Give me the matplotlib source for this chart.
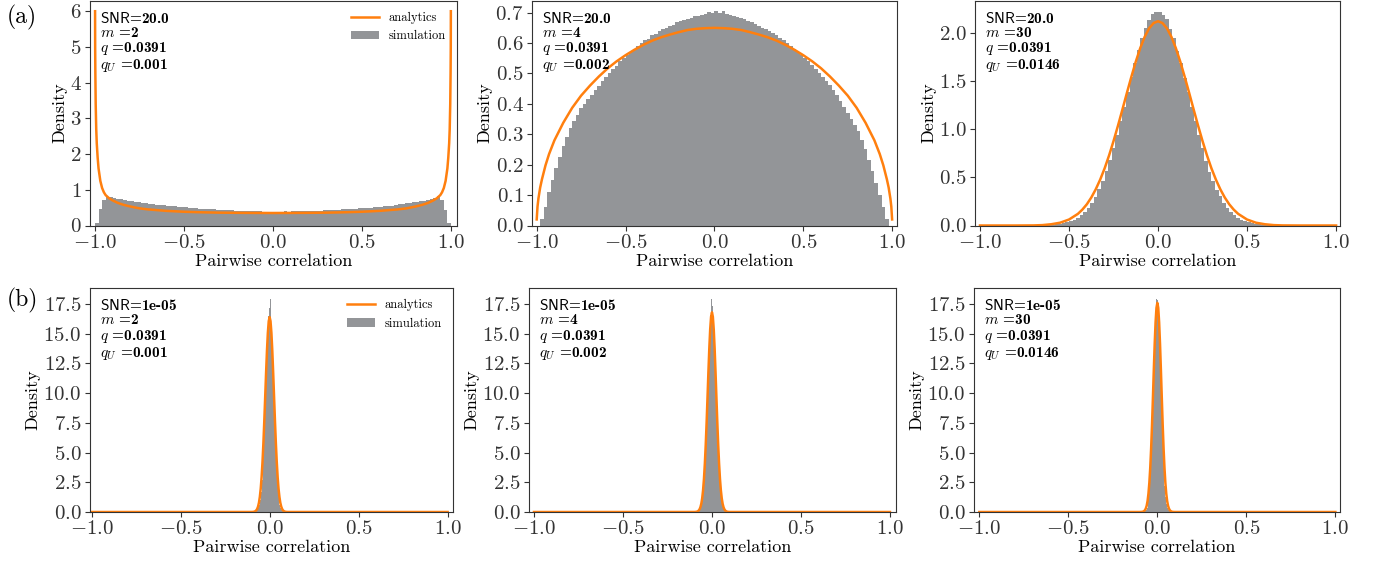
import numpy as np
import matplotlib
matplotlib.use("Agg")
import matplotlib.pyplot as plt
from matplotlib.lines import Line2D
from matplotlib.patches import Patch

plt.rcParams["font.family"] = "serif"
plt.rcParams["font.serif"] = ["cmr10"]
plt.rcParams["mathtext.fontset"] = "cm"
plt.rcParams["axes.formatter.use_mathtext"] = True

ORANGE = "#ff7f0e"
GREY = "#939598"

# ---------------- row (a): SNR = 20.0 ----------------
EDGES_A = np.linspace(-1.0, 1.0, 101)

HIST_A_M2 = [
    0.08, 0.47, 0.72, 0.81, 0.79, 0.77, 0.75, 0.73, 0.71, 0.69,
    0.675, 0.66, 0.645, 0.63, 0.62, 0.605, 0.595, 0.585, 0.575, 0.565,
    0.555, 0.545, 0.535, 0.525, 0.515, 0.505, 0.50, 0.49, 0.485, 0.475,
    0.47, 0.465, 0.455, 0.45, 0.445, 0.44, 0.435, 0.43, 0.425, 0.42,
    0.415, 0.41, 0.405, 0.40, 0.40, 0.395, 0.395, 0.39, 0.39, 0.39,
    0.39, 0.39, 0.39, 0.395, 0.39, 0.40, 0.40, 0.405, 0.405, 0.41,
    0.41, 0.415, 0.42, 0.42, 0.425, 0.43, 0.435, 0.44, 0.445, 0.45,
    0.455, 0.46, 0.465, 0.47, 0.48, 0.485, 0.49, 0.50, 0.51, 0.52,
    0.53, 0.54, 0.55, 0.56, 0.575, 0.59, 0.60, 0.62, 0.635, 0.65,
    0.665, 0.68, 0.70, 0.72, 0.75, 0.78, 0.82, 0.72, 0.44, 0.08,
]
HIST_A_M4 = [
    0.0, 0.02, 0.06, 0.11, 0.15, 0.19, 0.225, 0.26, 0.29, 0.32,
    0.345, 0.365, 0.385, 0.40, 0.415, 0.43, 0.445, 0.46, 0.475, 0.49,
    0.50, 0.515, 0.525, 0.54, 0.55, 0.56, 0.57, 0.58, 0.59, 0.60,
    0.61, 0.615, 0.625, 0.63, 0.64, 0.645, 0.65, 0.655, 0.66, 0.668,
    0.672, 0.676, 0.68, 0.684, 0.688, 0.69, 0.693, 0.696, 0.702, 0.70,
    0.705, 0.698, 0.704, 0.695, 0.692, 0.689, 0.686, 0.682, 0.678, 0.673,
    0.668, 0.662, 0.657, 0.651, 0.646, 0.64, 0.632, 0.625, 0.617, 0.61,
    0.60, 0.59, 0.58, 0.57, 0.56, 0.55, 0.54, 0.528, 0.515, 0.503,
    0.49, 0.476, 0.462, 0.447, 0.43, 0.41, 0.39, 0.37, 0.35, 0.33,
    0.31, 0.28, 0.25, 0.215, 0.18, 0.14, 0.10, 0.06, 0.02, 0.0,
]
HIST_A_M30 = [
    0, 0, 0, 0, 0, 0, 0, 0, 0, 0,
    0, 0, 0, 0, 0, 0, 0.001, 0.002, 0.003, 0.005,
    0.0076, 0.011, 0.016, 0.022, 0.032, 0.044, 0.060, 0.081, 0.108, 0.143,
    0.185, 0.238, 0.30, 0.375, 0.462, 0.562, 0.675, 0.80, 0.936, 1.08,
    1.232, 1.385, 1.538, 1.685, 1.82, 1.945, 2.05, 2.13, 2.19, 2.216,
    2.22, 2.18, 2.14, 2.04, 1.95, 1.81, 1.69, 1.53, 1.39, 1.23,
    1.08, 0.94, 0.80, 0.67, 0.56, 0.465, 0.372, 0.302, 0.235, 0.186,
    0.142, 0.109, 0.080, 0.061, 0.043, 0.032, 0.022, 0.016, 0.011, 0.0075,
    0.005, 0.003, 0.002, 0.001, 0, 0, 0, 0, 0, 0,
    0, 0, 0, 0, 0, 0, 0, 0, 0, 0,
]

CURVE_A_M2_X = [-0.9995, -0.999, -0.998, -0.996, -0.993, -0.99, -0.985, -0.98, -0.97, -0.96,
                -0.95, -0.94, -0.92, -0.90, -0.87, -0.84, -0.80, -0.75, -0.70, -0.60,
                -0.50, -0.40, -0.30, -0.20, -0.10, 0.0,
                0.10, 0.20, 0.30, 0.40, 0.50, 0.60, 0.70, 0.75, 0.80, 0.84,
                0.87, 0.90, 0.92, 0.94, 0.95, 0.96, 0.97, 0.98, 0.985, 0.99,
                0.993, 0.996, 0.998, 0.999, 0.9995]
CURVE_A_M2_Y = [6.0, 5.0, 4.3, 3.4, 2.7, 2.3, 1.9, 1.6, 1.25, 1.05,
                0.93, 0.85, 0.76, 0.70, 0.63, 0.58, 0.53, 0.48, 0.45, 0.41,
                0.385, 0.37, 0.36, 0.355, 0.352, 0.35,
                0.352, 0.355, 0.36, 0.37, 0.385, 0.41, 0.45, 0.48, 0.53, 0.58,
                0.63, 0.70, 0.76, 0.85, 0.93, 1.05, 1.25, 1.6, 1.9, 2.3,
                2.7, 3.4, 4.3, 5.0, 6.0]

CURVE_A_M4_X = [-0.9995, -0.995, -0.99, -0.98, -0.97, -0.95, -0.93, -0.90, -0.85, -0.80,
                -0.75, -0.70, -0.65, -0.60, -0.55, -0.50, -0.45, -0.40, -0.35, -0.30,
                -0.25, -0.20, -0.15, -0.10, -0.05, 0.0,
                0.05, 0.10, 0.15, 0.20, 0.25, 0.30, 0.35, 0.40, 0.45, 0.50,
                0.55, 0.60, 0.65, 0.70, 0.75, 0.80, 0.85, 0.90, 0.93, 0.95,
                0.97, 0.98, 0.99, 0.995, 0.9995]
CURVE_A_M4_Y = [0.02, 0.062, 0.088, 0.125, 0.152, 0.198, 0.235, 0.28, 0.338, 0.387,
                0.427, 0.46, 0.49, 0.517, 0.54, 0.56, 0.578, 0.594, 0.608, 0.619,
                0.628, 0.636, 0.643, 0.647, 0.649, 0.65,
                0.649, 0.647, 0.643, 0.636, 0.628, 0.619, 0.608, 0.594, 0.578, 0.56,
                0.54, 0.517, 0.49, 0.46, 0.427, 0.387, 0.338, 0.28, 0.235, 0.198,
                0.152, 0.125, 0.088, 0.062, 0.02]

CURVE_A_M30_X = [-1.0, -0.8, -0.7, -0.65, -0.6, -0.55, -0.5, -0.45, -0.425, -0.4,
                 -0.375, -0.35, -0.325, -0.3, -0.275, -0.25, -0.225, -0.2, -0.175, -0.15,
                 -0.125, -0.1, -0.075, -0.05, -0.025, 0.0,
                 0.025, 0.05, 0.075, 0.1, 0.125, 0.15, 0.175, 0.2, 0.225, 0.25,
                 0.275, 0.3, 0.325, 0.35, 0.375, 0.4, 0.425, 0.45, 0.5, 0.55,
                 0.6, 0.65, 0.7, 0.8, 1.0]
CURVE_A_M30_Y = [0.0, 0.0, 0.001, 0.004, 0.013, 0.029, 0.062, 0.121, 0.165, 0.220,
                 0.29, 0.375, 0.476, 0.593, 0.727, 0.876, 1.036, 1.204, 1.375, 1.542,
                 1.70, 1.841, 1.958, 2.046, 2.101, 2.12,
                 2.101, 2.046, 1.958, 1.841, 1.70, 1.542, 1.375, 1.204, 1.036, 0.876,
                 0.727, 0.593, 0.476, 0.375, 0.29, 0.220, 0.165, 0.121, 0.062, 0.029,
                 0.013, 0.004, 0.001, 0.0, 0.0]

# ---------------- row (b): SNR = 1e-05 ----------------
EDGES_B = np.linspace(-0.08, 0.08, 33)

HIST_B_M2 = [0.03, 0.08, 0.16, 0.31, 0.58, 1.02, 1.70, 2.71, 4.09, 5.88, 8.0, 10.4, 12.75, 14.9, 16.5, 17.2,
             17.95, 16.4, 14.8, 12.7, 10.4, 8.0, 5.9, 4.1, 2.7, 1.7, 1.0, 0.58, 0.31, 0.16, 0.08, 0.03]
HIST_B_M4 = [0.03, 0.07, 0.15, 0.30, 0.56, 1.0, 1.68, 2.70, 4.1, 5.9, 8.05, 10.5, 12.8, 15.0, 16.6, 17.9,
             17.3, 16.5, 14.9, 12.8, 10.4, 8.0, 5.85, 4.05, 2.68, 1.68, 1.0, 0.57, 0.30, 0.15, 0.07, 0.03]
HIST_B_M30 = [0.01, 0.03, 0.08, 0.18, 0.37, 0.72, 1.30, 2.20, 3.50, 5.25, 7.40, 9.85, 12.4, 14.8, 16.7, 17.95,
              17.8, 16.6, 14.7, 12.3, 9.8, 7.35, 5.2, 3.45, 2.18, 1.28, 0.71, 0.37, 0.18, 0.08, 0.03, 0.01]

CURVE_B_X = [-1.0, -0.1, -0.095, -0.09, -0.085, -0.08, -0.075, -0.07, -0.065, -0.06,
             -0.055, -0.05, -0.045, -0.04, -0.035, -0.03, -0.025, -0.02, -0.015, -0.01,
             -0.005, 0.0, 0.005, 0.01, 0.015, 0.02, 0.025, 0.03, 0.035, 0.04,
             0.045, 0.05, 0.055, 0.06, 0.065, 0.07, 0.075, 0.08, 0.085, 0.09,
             0.095, 0.1, 1.0]
CURVE_B_M2_Y = [0.0, 0.003, 0.008, 0.017, 0.036, 0.073, 0.14, 0.26, 0.46, 0.78,
                1.27, 1.97, 2.95, 4.23, 5.81, 7.65, 9.66, 11.69, 13.56, 15.07,
                16.06, 16.4, 16.06, 15.07, 13.56, 11.69, 9.66, 7.65, 5.81, 4.23,
                2.95, 1.97, 1.27, 0.78, 0.46, 0.26, 0.14, 0.073, 0.036, 0.017,
                0.008, 0.003, 0.0]
CURVE_B_M4_Y = [0.0, 0.003, 0.006, 0.013, 0.028, 0.058, 0.115, 0.22, 0.40, 0.69,
                1.15, 1.83, 2.79, 4.07, 5.67, 7.56, 9.65, 11.78, 13.76, 15.37,
                16.43, 16.8, 16.43, 15.37, 13.76, 11.78, 9.65, 7.56, 5.67, 4.07,
                2.79, 1.83, 1.15, 0.69, 0.40, 0.22, 0.115, 0.058, 0.028, 0.013,
                0.006, 0.003, 0.0]
CURVE_B_M30_Y = [0.0, 0.001, 0.003, 0.007, 0.016, 0.035, 0.074, 0.15, 0.29, 0.53,
                 0.93, 1.55, 2.46, 3.71, 5.34, 7.33, 9.58, 11.93, 14.14, 15.97,
                 17.18, 17.6, 17.18, 15.97, 14.14, 11.93, 9.58, 7.33, 5.34, 3.71,
                 2.46, 1.55, 0.93, 0.53, 0.29, 0.15, 0.074, 0.035, 0.016, 0.007,
                 0.003, 0.001, 0.0]

SNR_LABELS = ["20.0", "1e-05"]
M_VALUES = [2, 4, 30]
Q_VALUE = "0.0391"
QU_VALUES = ["0.001", "0.002", "0.0146"]

YTICKS = [
    [[0, 1, 2, 3, 4, 5, 6], [0.0, 0.1, 0.2, 0.3, 0.4, 0.5, 0.6, 0.7], [0.0, 0.5, 1.0, 1.5, 2.0]],
    [[0.0, 2.5, 5.0, 7.5, 10.0, 12.5, 15.0, 17.5]] * 3,
]

W, H = 1376, 567
# pixel boxes (x0, y0, x1, y1) of every panel, measured from the top-left corner
BOXES = [
    [(90, 0.5, 457, 225.5), (532, 0.5, 897, 225.5), (975, 0.5, 1340, 225.5)],
    [(90, 288, 453, 512), (529, 288, 896, 512), (974, 288, 1340, 512)],
]
XLIMS = [
    [(-1.028, 1.034), (-1.026, 1.027), (-1.028, 1.022)],
    [(-1.009, 1.030), (-1.028, 1.034), (-1.030, 1.026)],
]
YLIMS = [[(0, 6.3), (0, 0.74), (0, 2.335)], [(0, 18.85), (0, 18.85), (0, 18.85)]]

panels = [
    [(EDGES_A, HIST_A_M2, CURVE_A_M2_X, CURVE_A_M2_Y),
     (EDGES_A, HIST_A_M4, CURVE_A_M4_X, CURVE_A_M4_Y),
     (EDGES_A, HIST_A_M30, CURVE_A_M30_X, CURVE_A_M30_Y)],
    [(EDGES_B, HIST_B_M2, CURVE_B_X, CURVE_B_M2_Y),
     (EDGES_B, HIST_B_M4, CURVE_B_X, CURVE_B_M4_Y),
     (EDGES_B, HIST_B_M30, CURVE_B_X, CURVE_B_M30_Y)],
]

fig = plt.figure(figsize=(W / 100, H / 100), dpi=100)

for r in range(2):
    for c in range(3):
        x0, y0, x1, y1 = BOXES[r][c]
        ax = fig.add_axes([x0 / W, 1 - y1 / H, (x1 - x0) / W, (y1 - y0) / H])
        edges, hist, cx, cy = panels[r][c]
        edges = np.asarray(edges)
        ax.bar(edges[:-1], hist, width=np.diff(edges), align="edge",
               color=GREY, linewidth=0, zorder=1)
        ax.plot(cx, cy, color=ORANGE, lw=1.8, zorder=2)
        ax.set_xlim(*XLIMS[r][c])
        ax.set_ylim(*YLIMS[r][c])
        ax.set_xticks([-1.0, -0.5, 0.0, 0.5, 1.0])
        ax.set_yticks(YTICKS[r][c])
        ax.tick_params(labelsize=15, colors="#333333", pad=2.5)
        for sp in ax.spines.values():
            sp.set_color("#333333")
        ax.set_xlabel("Pairwise correlation", fontsize=13, labelpad=1)
        ax.set_ylabel("Density", fontsize=13, labelpad=2)

        info = (r"$\mathsf{SNR}$=" + SNR_LABELS[r] + "\n"
                + r"$m$ =" + str(M_VALUES[c]) + "\n"
                + r"$q$ =" + Q_VALUE + "\n"
                + r"$q_U$ =" + QU_VALUES[c])
        ax.text(0.028, 0.955, info, transform=ax.transAxes, ha="left", va="top",
                fontsize=11, family="cmb10", linespacing=1.02)

        if c == 0:
            handles = [Line2D([], [], color=ORANGE, lw=1.8), Patch(facecolor=GREY)]
            ax.legend(handles, ["analytics", "simulation"], loc="upper right",
                      frameon=False, fontsize=9, handlelength=2.2)

fig.text(22 / W, 1 - 17 / H, "(a)", fontsize=17, ha="center", va="center")
fig.text(22 / W, 1 - 300 / H, "(b)", fontsize=17, ha="center", va="center")

fig.savefig("out.png", dpi=100)
